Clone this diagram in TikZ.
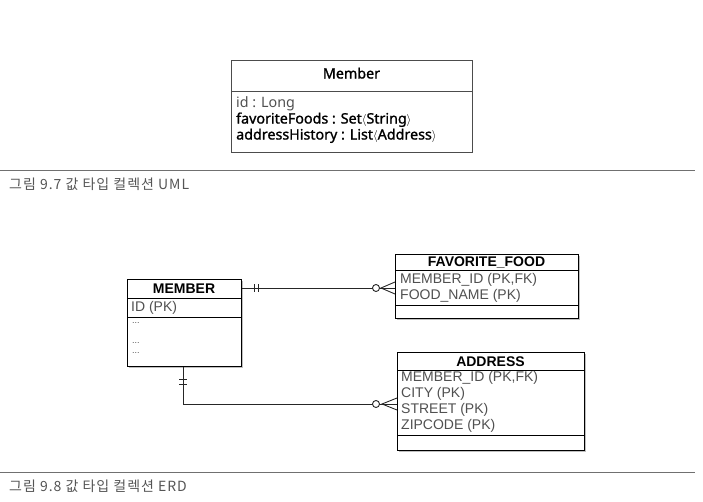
\documentclass[tikz,border=0pt]{standalone}
\usepackage{fontspec}
\setmainfont{Liberation Sans}
\newfontfamily\umlfont{Noto Sans}
\newfontfamily\umlbold[FakeBold=1.2]{Noto Sans}
\newfontfamily\krfont[LetterSpace=7]{Noto Sans CJK KR}
\usetikzlibrary{shadows,calc}
\definecolor{capgray}{HTML}{555555}
\definecolor{rulegray}{HTML}{707070}
\definecolor{txtgray}{HTML}{505050}
\newcommand{\lab}{{\fontsize{11.5}{12}\selectfont$\langle$}}
\newcommand{\rab}{{\fontsize{11.5}{12}\selectfont$\rangle$}}
\begin{document}
\begin{tikzpicture}[x=1pt,y=-1pt,
  erbox/.style={draw=black, line width=1.1pt, fill=white, inner sep=0pt, anchor=north west,
     drop shadow={shadow xshift=1.3pt, shadow yshift=-1.3pt, opacity=0.5}},
  umlbox/.style={draw=black!70, line width=0.9pt, fill=white, inner sep=0pt, anchor=north west},
  sep/.style={line width=0.9pt},
  erhead/.style={font=\fontsize{14}{16}\selectfont\bfseries, inner sep=0pt},
  errow/.style={font=\fontsize{14}{16}\selectfont, text=txtgray, inner sep=0pt, anchor=west},
  dots/.style={font=\fontsize{9}{10}\selectfont, text=txtgray, inner sep=0pt, anchor=west},
  umltxt/.style={font=\umlbold\fontsize{14.3}{16}\selectfont, inner sep=0pt, anchor=west,
     text height=10pt, text depth=3pt},
  umlthin/.style={font=\umlfont\fontsize{14.3}{16}\selectfont, text=txtgray, inner sep=0pt, anchor=west,
     text height=10pt, text depth=3pt},
  captxt/.style={font=\krfont\fontsize{14}{16}\selectfont, text=capgray, inner sep=0pt, anchor=west},
  rulel/.style={draw=rulegray, line width=0.9pt},
  conn/.style={draw=black!85, line width=0.9pt}]
\useasboundingbox (0,0) rectangle (703,501);

% ---------- UML ----------
\node[umlbox, minimum width=241pt, minimum height=92pt] (uml) at (231,60) {};
\draw[sep, black!70] (231,91) -- (472,91);
\node[umltxt, anchor=center] (umlhead) at (351.5,75) {Member};
\node[umlthin] (u1) at (236,104) {id : Long};
\node[umltxt] (u2) at (236,120) {favoriteFoods : Set\lab String\rab};
\node[umltxt] (u3) at (236,136) {addressHistory : List\lab Address\rab};

\coordinate (r1a) at (0,170);
\coordinate (r1b) at (695,170);
\draw[rulel] (r1a) -- (r1b);
\node[captxt] (cap1) at (9,184) {그림 9.7 값 타입 컬렉션 UML};

% ---------- ERD ----------
\node[erbox, minimum width=114pt, minimum height=87pt] (member) at (127,279) {};
\draw[sep] (127,298) -- (241,298);
\draw[sep] (127,317) -- (241,317);
\node[erhead] (mh) at (184,288.5) {MEMBER};
\node[errow] (m1) at (131,307.5) {ID (PK)};
\node[dots] (d1) at (132,323) {...};
\node[dots] (d2) at (132,343) {...};
\node[dots] (d3) at (132,353) {...};

\node[erbox, minimum width=183pt, minimum height=64pt] (ff) at (395,254) {};
\draw[sep] (395,270) -- (578,270);
\draw[sep] (395,305) -- (578,305);
\node[erhead] (ffh) at (486.5,262.5) {FAVORITE\_FOOD};
\node[errow] (f1) at (400,280) {MEMBER\_ID (PK,FK)};
\node[errow] (f2) at (400,296) {FOOD\_NAME (PK)};

\node[erbox, minimum width=187pt, minimum height=98pt] (addr) at (397,352) {};
\draw[sep] (397,370) -- (584,370);
\draw[sep] (397,435) -- (584,435);
\node[erhead] (ah) at (490.5,361.5) {ADDRESS};
\node[errow] (a1) at (401,377.5) {MEMBER\_ID (PK,FK)};
\node[errow] (a2) at (401,393.5) {CITY (PK)};
\node[errow] (a3) at (401,409.5) {STREET (PK)};
\node[errow] (a4) at (401,426) {ZIPCODE (PK)};

% connector MEMBER -- FAVORITE_FOOD
\coordinate (c1) at (0,288);
\draw[conn] (member.east |- c1) -- (ff.west |- c1);
\draw[conn] ($(member.east |- c1)+(12,-4)$) -- ++(0,8);
\draw[conn] ($(member.east |- c1)+(16,-4)$) -- ++(0,8);
\draw[conn] ($(ff.west |- c1)+(0,-6)$) -- ($(ff.west |- c1)+(-14,0)$) -- ($(ff.west |- c1)+(0,6)$);
\draw[conn, fill=white] ($(ff.west |- c1)+(-19,0)$) circle (3.5pt);

% connector MEMBER -- ADDRESS
\coordinate (c2) at (183,404);
\draw[conn] (member.south -| c2) |- (addr.west |- c2);
\draw[conn] ($(member.south -| c2)+(-4,12)$) -- ++(8,0);
\draw[conn] ($(member.south -| c2)+(-4,17)$) -- ++(8,0);
\draw[conn] ($(addr.west |- c2)+(0,-6)$) -- ($(addr.west |- c2)+(-15,0)$) -- ($(addr.west |- c2)+(0,6)$);
\draw[conn, fill=white] ($(addr.west |- c2)+(-21,0)$) circle (3.5pt);

\coordinate (r2a) at (0,472);
\coordinate (r2b) at (695,472);
\draw[rulel] (r2a) -- (r2b);
\node[captxt] (cap2) at (9,486) {그림 9.8 값 타입 컬렉션 ERD};
\end{tikzpicture}
\end{document}
